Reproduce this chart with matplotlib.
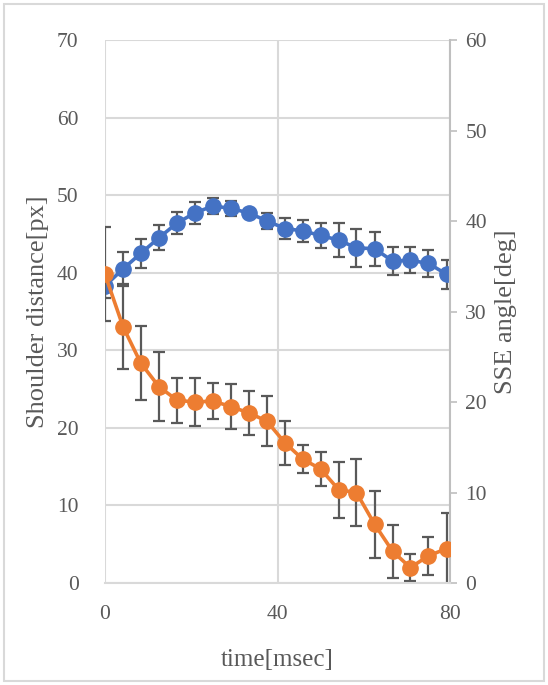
import matplotlib
matplotlib.use('Agg')
import matplotlib.pyplot as plt
from matplotlib.patches import Rectangle

plt.rcParams['font.family'] = ['Liberation Serif', 'DejaVu Serif']

# time axis (msec)
time = [0, 4.2, 8.3, 12.5, 16.7, 20.8, 25.0, 29.2, 33.3, 37.5,
        41.7, 45.8, 50.0, 54.2, 58.3, 62.5, 66.7, 70.8, 75.0, 79.2]

# shoulder distance [px] (left axis)
shoulder = [38.3, 40.5, 42.5, 44.5, 46.4, 47.7, 48.6, 48.3, 47.7, 46.7,
            45.7, 45.4, 44.8, 44.2, 43.2, 43.1, 41.5, 41.6, 41.2, 39.8]
shoulder_err = [1.6, 2.2, 1.85, 1.6, 1.45, 1.4, 1.0, 0.95, 0.5, 1.05,
                1.4, 1.45, 1.65, 2.2, 2.45, 2.2, 1.85, 1.7, 1.75, 1.85]

# SSE angle [deg] (right axis)
sse = [34.1, 28.3, 24.3, 21.7, 20.2, 20.0, 20.1, 19.5, 18.8, 17.9,
       15.5, 13.7, 12.6, 10.3, 10.0, 6.5, 3.5, 1.7, 3.0, 3.8]
sse_err = [5.2, 4.7, 4.1, 3.8, 2.5, 2.7, 2.0, 2.5, 2.4, 2.8,
           2.45, 1.6, 1.9, 3.1, 3.7, 3.7, 2.9, 1.5, 2.1, 3.9]

xticks = [0, 40, 80]
left_ticks = [0, 10, 20, 30, 40, 50, 60, 70]
right_ticks = [0, 10, 20, 30, 40, 50, 60]

blue = '#4472C4'
orange = '#ED7D31'
errc = '#595959'
txt = '#595959'
grid = '#D9D9D9'

fig = plt.figure(figsize=(5.48, 6.85), dpi=100)
fig.patches.append(Rectangle((0.008, 0.006), 0.984, 0.988, transform=fig.transFigure,
                             fill=False, edgecolor='#D9D9D9', linewidth=1.5))

ax = fig.add_axes([0.1916, 0.1489, 0.6296, 0.7927])
ax2 = ax.twinx()

ax.errorbar(time, shoulder, yerr=shoulder_err, fmt='none', ecolor=errc,
            elinewidth=1.6, capsize=4, capthick=1.6, zorder=2)
ax.plot(time, shoulder, color=blue, lw=2.6, marker='o', ms=11, zorder=3)

ax2.errorbar(time, sse, yerr=sse_err, fmt='none', ecolor=errc,
             elinewidth=1.6, capsize=4, capthick=1.6, zorder=2)
ax2.plot(time, sse, color=orange, lw=2.6, marker='o', ms=11, zorder=3)

ax.set_xlim(0, 80)
ax.set_ylim(0, 70)
ax2.set_ylim(0, 60)
ax.set_xticks(xticks)
ax.set_yticks(left_ticks)
ax2.set_yticks(right_ticks)

ax.grid(True, color=grid, lw=1.5)
ax.set_axisbelow(True)
for s in ['top', 'right', 'left', 'bottom']:
    ax.spines[s].set_visible(False)
for s in ['top', 'left']:
    ax2.spines[s].set_visible(False)
ax2.spines['bottom'].set_color(grid)
ax2.spines['bottom'].set_linewidth(1.5)
ax2.spines['right'].set_color('#BFBFBF')
ax2.spines['right'].set_linewidth(1.5)

ax.tick_params(axis='both', length=0, labelsize=15.5, colors=txt)
ax.tick_params(axis='y', pad=19)
ax.tick_params(axis='x', pad=16)
ax2.tick_params(axis='y', length=5, width=1.2, color='#BFBFBF', labelsize=15.5,
                labelcolor=txt, pad=6)

ax.set_xlabel('time[msec]', fontsize=18, color=txt, labelpad=18)
ax.set_ylabel('Shoulder distance[px]', fontsize=19, color=txt, labelpad=6)
ax2.set_ylabel('SSE angle[deg]', fontsize=19, color=txt, labelpad=6)

fig.savefig('out.png', dpi=100)
